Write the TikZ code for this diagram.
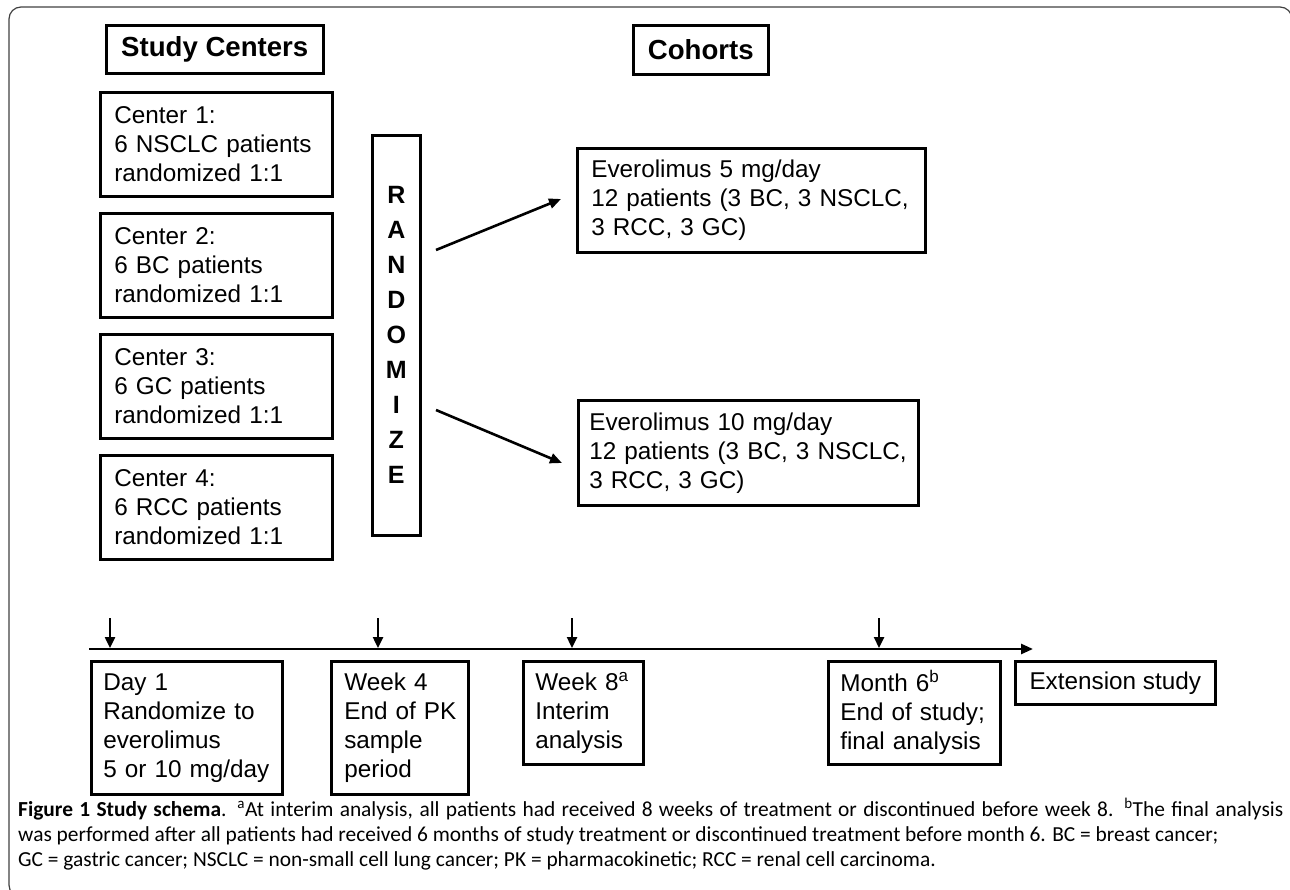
\documentclass[tikz,border=0pt]{standalone}
\usepackage{fontspec}
\setmainfont{Liberation Sans}
\newfontfamily\capfont{Carlito}
\usetikzlibrary{arrows.meta}
\tikzset{
  box/.style={draw, line width=2.6pt, anchor=north west, align=left, inner ysep=0pt,
    font=\fontsize{24.3}{29}\selectfont},
  titlebox/.style={draw, line width=2.6pt, anchor=north west, align=center, inner sep=0pt,
    font=\bfseries\fontsize{27.6}{33}\selectfont},
  arr/.style={line width=2.6pt, -{Triangle[length=12pt,width=10pt]}},
  tick/.style={line width=2.4pt, -{Triangle[length=11pt,width=10pt]}},
  captext/.style={anchor=base west, inner sep=0pt, font=\capfont\fontsize{21.4}{25}\selectfont},
}
\begin{document}
\begin{tikzpicture}[x=1pt,y=-1pt]
\useasboundingbox (0,0) rectangle (1290,890);
\begin{scope}
\clip (0,0) rectangle (1290,890);
\draw[line width=1.2pt, black!75, rounded corners=12pt] (9,7) rectangle (1292,897);
\end{scope}

% titles
\node[titlebox, minimum width=217pt, minimum height=48pt] (sc) at (105,24) {Study Centers};
\node[titlebox, minimum width=135pt, minimum height=49pt] (co) at (632,24) {Cohorts};

% centers
\node[box, inner xsep=14pt, text width=204pt, minimum height=104pt] (c1) at (99,91) {Center 1:\\6 NSCLC patients\\randomized 1:1};
\node[box, inner xsep=14pt, text width=204pt, minimum height=104pt] (c2) at (99,212) {Center 2:\\6 BC patients\\randomized 1:1};
\node[box, inner xsep=14pt, text width=204pt, minimum height=104pt] (c3) at (99,333) {Center 3:\\6 GC patients\\randomized 1:1};
\node[box, inner xsep=14pt, text width=204pt, minimum height=104pt] (c4) at (99,454) {Center 4:\\6 RCC patients\\randomized 1:1};

% randomize
\node[draw, line width=2.6pt, anchor=north west, minimum width=48pt, minimum height=400pt, inner sep=0pt,
  align=center, font=\bfseries\fontsize{25}{35}\selectfont] (rand) at (371,134) {R\\A\\N\\D\\O\\M\\I\\Z\\E};

% cohorts
\node[box, inner xsep=14pt, text width=320pt, minimum height=104pt] (e5) at (576,147) {Everolimus 5 mg/day\\12 patients (3 BC, 3 NSCLC,\\3 RCC, 3 GC)};
\node[box, inner xsep=11pt, text width=318pt, minimum height=105pt] (e10) at (577,399) {Everolimus 10 mg/day\\12 patients (3 BC, 3 NSCLC,\\3 RCC, 3 GC)};

\coordinate (r1) at (436,250);
\coordinate (r1e) at (561,199);
\coordinate (r2) at (436,410);
\coordinate (r2e) at (562,463);
\draw[arr] (r1) -- (r1e);
\draw[arr] (r2) -- (r2e);

% timeline
\coordinate (t0) at (89,649);
\coordinate (t1) at (1033,649);
\draw[arr] (t0) -- (t1);
\foreach \x [count=\i] in {110,378,572,879} {
  \coordinate (d\i) at (\x,618);
  \coordinate (e\i) at (\x,648);
  \draw[tick] (d\i) -- (e\i);
}

% timeline boxes
\node[box, inner xsep=12pt, text width=167pt, minimum height=133pt] (day1) at (90,660) {Day 1\\Randomize to\\everolimus\\5 or 10 mg/day};
\node[box, inner xsep=9pt, text width=119pt, minimum height=133pt] (wk4) at (330,660) {\hspace*{4pt}Week 4\\\hspace*{4pt}End of PK\\\hspace*{4pt}sample\\\hspace*{4pt}period};
\node[box, inner xsep=12pt, text width=96pt, minimum height=103pt] (wk8) at (522,660) {Week 8\textsuperscript{a}\\Interim\\analysis};
\node[box, inner xsep=12pt, text width=148pt, minimum height=103pt] (m6) at (827,660) {Month 6\textsuperscript{b}\\End of study;\\final analysis};
\node[box, align=center, inner xsep=0pt, minimum width=200pt, minimum height=43pt] (ext) at (1014,660) {Extension study};

% caption
\node[captext] (cap1) at (18,816) {\makebox[1265pt][s]{\textbf{Figure 1 Study schema}. \textsuperscript{a}At interim analysis, all patients had received 8 weeks of treatment or discontinued before week 8. \textsuperscript{b}The final analysis}};
\node[captext] (cap2) at (18,841) {was performed after all patients had received 6 months of study treatment or discontinued treatment before month 6. BC = breast cancer;};
\node[captext] (cap3) at (18,866) {GC = gastric cancer; NSCLC = non-small cell lung cancer; PK = pharmacokinetic; RCC = renal cell carcinoma.};
\end{tikzpicture}
\end{document}
